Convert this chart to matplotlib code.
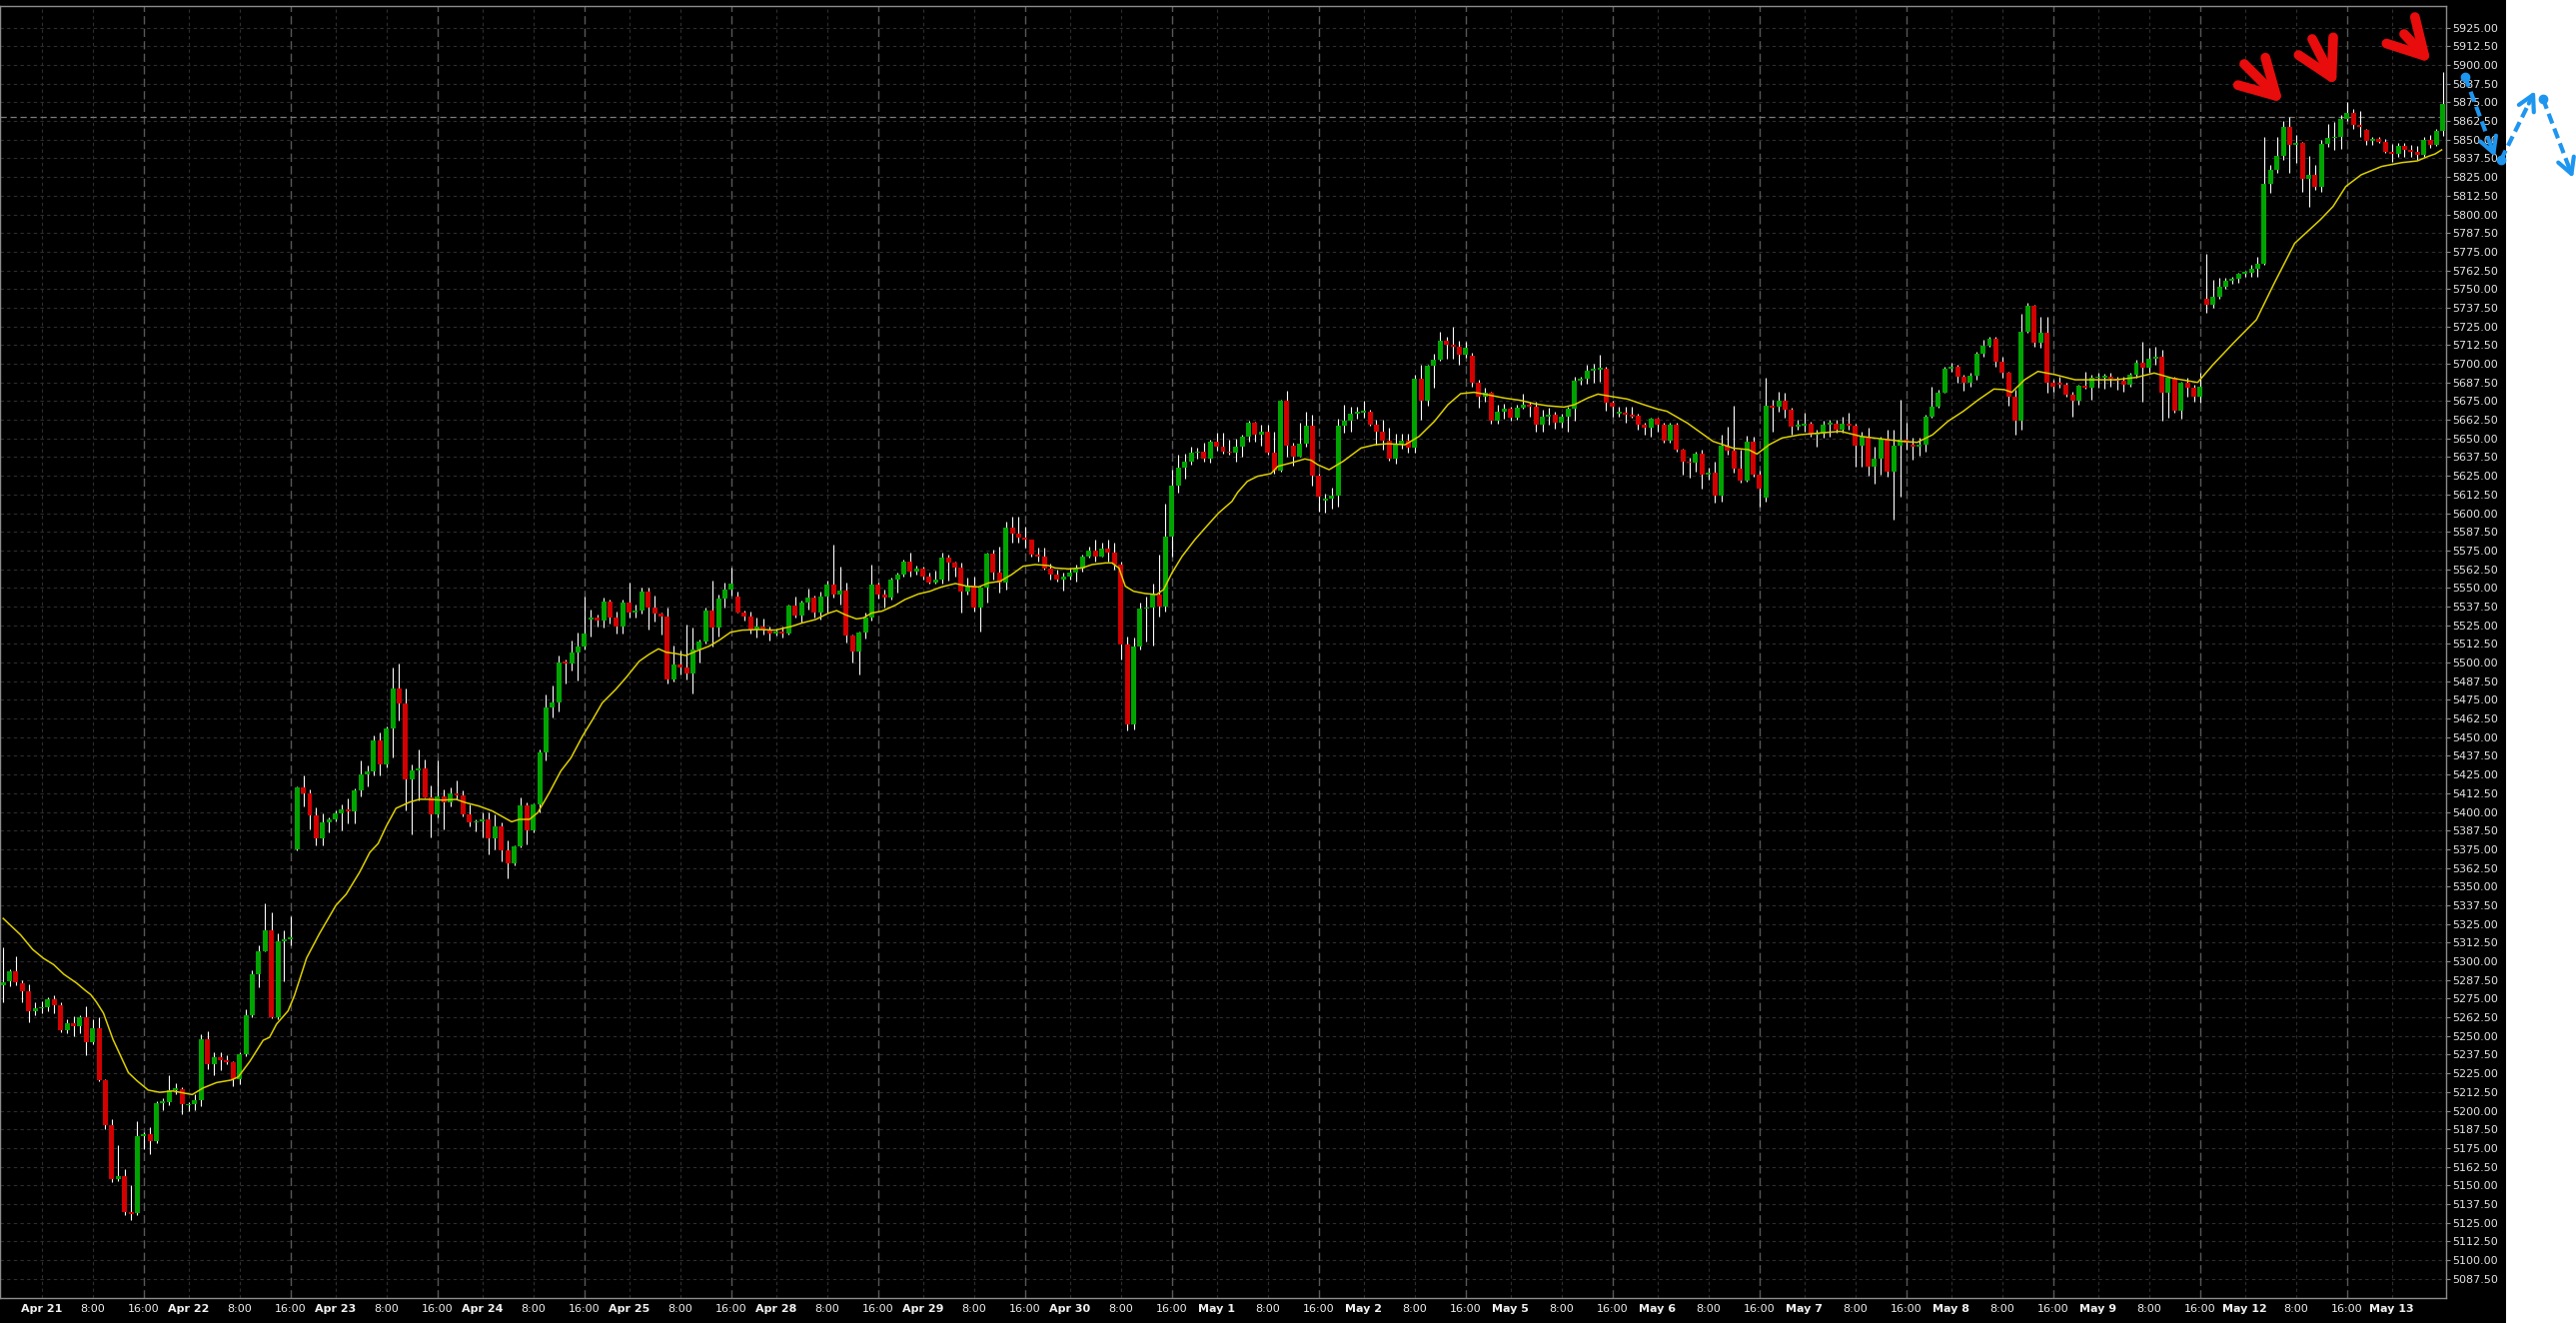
import numpy as np
import matplotlib.pyplot as plt
from matplotlib.patches import Rectangle, FancyArrowPatch
from matplotlib.lines import Line2D

W, H = 2578, 1324

# hourly bars, 23 per session (18:00 -> 16:00), weekends dropped
sessions = ['Apr 21', 'Apr 22', 'Apr 23', 'Apr 24', 'Apr 25', 'Apr 28', 'Apr 29', 'Apr 30',
            'May 1', 'May 2', 'May 5', 'May 6', 'May 7', 'May 8', 'May 9', 'May 12', 'May 13']
bars_per_session = 23

opens = [
    5284.0, 5286.5, 5293.0, 5285.4, 5280.1, 5266.5, 5268.3, 5269.0, 5274.8, 5270.6, 5254.1, 5258.5, 5256.5, 5262.4, 5245.6, 5255.0, 5220.5, 5190.2, 5154.5, 5156.3, 5132.1, 5131.5, 5182.8,
    5184.0, 5179.9, 5204.9, 5205.8, 5213.7, 5214.6, 5203.5, 5204.3, 5207.0, 5247.6, 5231.1, 5235.9, 5233.5, 5232.3, 5221.1, 5237.9, 5263.9, 5291.3, 5306.6, 5320.7, 5262.4, 5313.1, 5314.8,
    5375.0, 5416.2, 5412.7, 5397.4, 5382.6, 5393.0, 5395.0, 5399.1, 5401.8, 5400.3, 5414.2, 5425.4, 5427.4, 5448.1, 5431.6, 5456.0, 5482.5, 5472.5, 5421.5, 5428.0, 5429.2, 5409.9, 5398.3,
    5410.1, 5406.6, 5412.4, 5410.8, 5398.3, 5392.8, 5393.5, 5395.2, 5382.1, 5390.5, 5374.5, 5365.3, 5377.2, 5404.6, 5387.9, 5405.0, 5439.6, 5469.7, 5473.1, 5501.0, 5499.4, 5506.5, 5510.9,
    5528.8, 5530.3, 5528.1, 5541.0, 5530.3, 5524.3, 5540.4, 5533.7, 5534.8, 5547.5, 5537.0, 5532.8, 5531.0, 5488.6, 5498.7, 5496.9, 5492.7, 5508.7, 5514.1, 5534.8, 5523.7, 5542.8, 5548.8,
    5544.4, 5533.7, 5531.0, 5522.1, 5523.9, 5522.1, 5519.2, 5521.0, 5519.4, 5538.2, 5531.5, 5540.0, 5543.7, 5533.2, 5544.4, 5552.2, 5545.5, 5548.2, 5518.3, 5507.6, 5519.9, 5529.9, 5552.2,
    5545.5, 5543.3, 5555.5, 5558.9, 5567.8, 5560.7, 5562.7, 5557.8, 5553.8, 5555.5, 5570.5, 5566.7, 5563.8, 5547.7, 5551.7, 5537.0, 5550.0, 5572.7, 5560.0, 5553.3, 5590.1, 5586.3, 5583.9,
    5582.3, 5572.3, 5571.2, 5562.9, 5558.9, 5555.5, 5557.3, 5560.0, 5562.7, 5571.2, 5574.9, 5571.2, 5576.3, 5573.4, 5565.6, 5512.0, 5458.5, 5510.9, 5535.9, 5536.6, 5545.5, 5537.7, 5584.1,
    5618.4, 5630.2, 5634.7, 5640.3, 5641.4, 5636.5, 5647.9, 5644.7, 5641.4, 5640.3, 5644.7, 5651.0, 5660.3, 5652.5, 5654.3, 5640.3, 5628.5, 5675.3, 5645.4, 5637.6, 5646.5, 5658.8, 5625.3,
    5608.6, 5610.0, 5611.7, 5658.6, 5661.9, 5666.6, 5667.5, 5668.1, 5659.2, 5654.8, 5648.5, 5636.3, 5646.5, 5648.5, 5644.1, 5689.8, 5675.3, 5698.7, 5702.7, 5715.4, 5712.7, 5711.6, 5706.0,
    5705.4, 5687.6, 5678.2, 5680.9, 5661.9, 5667.7, 5669.9, 5664.1, 5670.8, 5672.6, 5671.0, 5659.2, 5664.8, 5665.9, 5660.8, 5664.8, 5669.7, 5688.7, 5689.8, 5695.4, 5696.0, 5696.7, 5674.2,
    5666.5, 5667.5, 5665.9, 5665.3, 5659.2, 5657.5, 5663.0, 5659.2, 5648.7, 5659.2, 5642.5, 5634.7, 5633.6, 5639.8, 5625.8, 5626.9, 5611.7, 5645.2, 5641.8, 5629.6, 5622.0, 5648.1, 5625.8,
    5610.2, 5672.0, 5671.5, 5675.5, 5669.3, 5657.7, 5658.6, 5659.9, 5652.5, 5653.2, 5659.2, 5659.9, 5655.9, 5659.9, 5658.6, 5645.2, 5651.4, 5631.3, 5636.3, 5649.7, 5628.0, 5645.2, 5649.2,
    5645.9, 5644.3, 5645.9, 5664.8, 5671.1, 5680.9, 5696.7, 5697.8, 5691.6, 5687.5, 5692.0, 5706.7, 5712.3, 5716.5, 5701.6, 5693.8, 5678.2, 5662.1, 5721.2, 5738.8, 5714.3, 5720.5, 5687.1,
    5687.5, 5686.0, 5679.3, 5675.5, 5685.3, 5684.2, 5690.4, 5690.5, 5691.6, 5689.8, 5688.7, 5686.0, 5692.7, 5700.5, 5697.2, 5703.2, 5704.9, 5680.9, 5690.4, 5668.8, 5687.1, 5683.8, 5678.2,
    5743.3, 5739.5, 5745.1, 5751.3, 5755.5, 5756.7, 5760.2, 5761.1, 5763.4, 5766.7, 5820.4, 5829.8, 5839.2, 5858.3, 5846.5, 5848.1, 5823.6, 5826.5, 5818.2, 5847.2, 5851.0, 5851.7, 5863.7,
    5867.7, 5859.9, 5856.6, 5849.4, 5850.3, 5848.8, 5842.1, 5840.5, 5845.9, 5843.2, 5841.6, 5839.8, 5849.9, 5846.5, 5856.1,
]

highs = [
    5309.5, 5294.8, 5303.1, 5287.4, 5284.5, 5272.7, 5273.3, 5276.2, 5277.1, 5272.7, 5261.5, 5263.3, 5263.9, 5269.8, 5260.9, 5262.4, 5221.0, 5194.6, 5176.9, 5160.7, 5150.4, 5193.1, 5185.8,
    5188.7, 5206.4, 5208.7, 5224.1, 5218.2, 5215.8, 5205.8, 5210.8, 5251.2, 5253.5, 5239.4, 5239.4, 5237.3, 5232.9, 5239.4, 5267.7, 5294.2, 5311.0, 5339.0, 5332.5, 5319.0, 5320.7, 5330.2,
    5417.1, 5424.5, 5415.0, 5403.0, 5398.8, 5396.5, 5400.9, 5405.3, 5409.2, 5415.6, 5434.2, 5431.3, 5451.0, 5453.4, 5456.9, 5496.7, 5499.6, 5482.8, 5431.9, 5441.6, 5435.1, 5417.7, 5434.5,
    5415.1, 5416.2, 5421.1, 5414.6, 5405.0, 5395.0, 5399.5, 5399.5, 5398.3, 5392.8, 5380.9, 5377.6, 5409.5, 5406.1, 5405.7, 5441.8, 5478.6, 5484.6, 5504.7, 5502.0, 5514.7, 5519.9, 5543.9,
    5535.5, 5532.1, 5543.3, 5542.2, 5534.4, 5542.2, 5553.8, 5538.8, 5550.0, 5550.0, 5544.8, 5533.2, 5537.0, 5511.4, 5508.1, 5525.4, 5523.2, 5515.4, 5536.6, 5555.1, 5545.5, 5553.3, 5563.8,
    5547.3, 5535.0, 5534.4, 5529.9, 5529.2, 5524.3, 5522.6, 5524.3, 5538.8, 5544.4, 5541.7, 5549.5, 5544.8, 5547.3, 5554.9, 5578.9, 5564.5, 5553.3, 5519.0, 5521.0, 5533.2, 5565.6, 5553.8,
    5548.9, 5556.6, 5560.4, 5568.9, 5573.8, 5564.9, 5564.5, 5560.0, 5561.8, 5573.8, 5572.3, 5567.8, 5567.1, 5556.6, 5557.8, 5551.1, 5573.8, 5575.6, 5577.8, 5594.6, 5597.9, 5597.5, 5591.2,
    5582.3, 5576.7, 5576.7, 5566.0, 5562.2, 5560.0, 5563.3, 5565.6, 5572.3, 5577.8, 5582.3, 5580.5, 5582.3, 5580.1, 5567.8, 5517.2, 5516.5, 5540.4, 5544.4, 5552.9, 5572.3, 5606.4, 5629.1,
    5639.2, 5639.8, 5644.7, 5643.6, 5647.0, 5649.2, 5654.1, 5653.6, 5649.2, 5649.6, 5652.5, 5662.1, 5661.5, 5659.2, 5659.2, 5654.8, 5675.9, 5682.0, 5647.4, 5660.8, 5668.2, 5665.9, 5626.5,
    5613.1, 5616.9, 5663.0, 5672.6, 5671.5, 5671.5, 5675.3, 5669.3, 5662.6, 5662.6, 5657.0, 5653.2, 5653.2, 5653.0, 5692.7, 5699.3, 5699.3, 5706.7, 5721.4, 5718.3, 5724.6, 5715.6, 5715.0,
    5707.2, 5689.3, 5683.8, 5681.5, 5672.6, 5673.3, 5671.5, 5672.6, 5680.0, 5674.8, 5674.8, 5669.3, 5670.4, 5668.2, 5666.6, 5671.5, 5691.1, 5691.1, 5699.3, 5699.8, 5706.0, 5698.2, 5675.5,
    5671.5, 5671.5, 5671.5, 5666.6, 5660.8, 5663.7, 5663.7, 5660.3, 5660.3, 5660.3, 5643.0, 5637.0, 5641.4, 5642.5, 5630.2, 5634.7, 5652.5, 5658.1, 5672.0, 5642.5, 5651.9, 5651.4, 5628.7,
    5690.4, 5676.0, 5681.5, 5680.9, 5670.4, 5662.6, 5667.0, 5661.5, 5655.9, 5662.1, 5662.6, 5662.6, 5664.4, 5667.0, 5659.9, 5654.8, 5657.0, 5644.7, 5651.4, 5655.9, 5655.9, 5676.0, 5660.8,
    5650.3, 5650.3, 5665.9, 5684.9, 5682.7, 5698.3, 5700.5, 5699.4, 5692.7, 5693.8, 5708.3, 5716.1, 5717.9, 5717.9, 5704.9, 5694.9, 5682.7, 5733.5, 5740.6, 5739.5, 5731.7, 5731.7, 5689.3,
    5691.6, 5687.1, 5681.5, 5686.0, 5694.9, 5692.7, 5693.8, 5693.3, 5693.8, 5691.6, 5691.6, 5693.8, 5702.7, 5715.0, 5710.5, 5711.2, 5709.4, 5691.6, 5691.6, 5688.2, 5690.4, 5686.0, 5693.8,
    5773.6, 5756.2, 5757.3, 5757.3, 5758.5, 5761.1, 5762.5, 5766.3, 5771.4, 5851.7, 5833.2, 5851.7, 5862.8, 5865.5, 5853.2, 5848.8, 5839.2, 5833.2, 5849.9, 5860.6, 5862.1, 5866.6, 5875.5,
    5870.4, 5869.5, 5857.0, 5851.7, 5851.7, 5850.3, 5847.2, 5847.6, 5847.6, 5846.5, 5845.9, 5851.7, 5853.2, 5857.0, 5895.6,
]

lows = [
    5272.7, 5283.6, 5284.0, 5272.7, 5259.4, 5263.9, 5265.0, 5266.8, 5265.3, 5252.7, 5252.1, 5249.7, 5252.1, 5237.3, 5244.7, 5219.6, 5187.8, 5151.9, 5152.7, 5129.8, 5126.8, 5130.3, 5174.0,
    5171.0, 5178.4, 5200.5, 5203.4, 5210.8, 5197.5, 5199.9, 5200.5, 5202.9, 5227.9, 5224.1, 5227.0, 5231.4, 5216.1, 5217.6, 5236.4, 5262.4, 5282.4, 5306.6, 5261.8, 5260.9, 5286.8, 5311.0,
    5374.4, 5403.9, 5388.5, 5377.3, 5377.3, 5386.2, 5393.5, 5387.6, 5392.1, 5392.1, 5410.3, 5417.1, 5424.5, 5424.5, 5429.5, 5436.3, 5461.3, 5400.9, 5384.7, 5407.4, 5409.5, 5383.2, 5396.6,
    5388.3, 5403.9, 5408.4, 5397.2, 5390.5, 5387.2, 5382.7, 5371.6, 5375.0, 5367.1, 5355.3, 5364.2, 5376.1, 5378.3, 5386.1, 5399.5, 5434.7, 5463.5, 5467.5, 5485.7, 5494.7, 5488.2, 5508.7,
    5517.2, 5524.3, 5523.7, 5526.1, 5519.4, 5519.4, 5529.9, 5529.9, 5532.6, 5522.1, 5527.7, 5518.7, 5485.9, 5487.5, 5492.0, 5488.6, 5479.3, 5499.8, 5512.7, 5510.9, 5517.6, 5536.6, 5545.1,
    5533.2, 5528.3, 5519.4, 5516.5, 5518.7, 5514.9, 5518.1, 5516.5, 5518.7, 5529.9, 5527.0, 5535.5, 5529.9, 5528.8, 5533.2, 5543.3, 5538.8, 5513.2, 5499.8, 5492.0, 5515.9, 5528.3, 5542.6,
    5536.6, 5542.2, 5546.6, 5557.8, 5557.8, 5558.9, 5555.5, 5552.9, 5552.9, 5552.9, 5555.1, 5557.8, 5533.2, 5545.5, 5534.4, 5521.0, 5539.9, 5555.5, 5547.1, 5548.9, 5580.5, 5580.1, 5576.7,
    5571.2, 5567.8, 5562.2, 5555.5, 5554.4, 5548.4, 5555.5, 5554.4, 5561.1, 5570.0, 5567.8, 5571.2, 5567.8, 5562.2, 5502.0, 5454.8, 5455.2, 5508.7, 5514.3, 5511.6, 5531.0, 5534.3, 5571.2,
    5613.5, 5622.9, 5632.5, 5636.3, 5634.7, 5633.6, 5642.1, 5639.8, 5639.2, 5634.7, 5637.6, 5647.9, 5647.9, 5645.2, 5639.2, 5626.5, 5628.0, 5637.6, 5631.8, 5637.6, 5644.7, 5618.4, 5601.3,
    5600.6, 5603.1, 5604.6, 5653.7, 5654.8, 5663.0, 5663.7, 5658.6, 5645.9, 5642.5, 5635.4, 5633.1, 5643.2, 5640.7, 5640.7, 5662.6, 5671.9, 5683.8, 5702.3, 5703.4, 5703.2, 5699.3, 5703.8,
    5684.4, 5670.8, 5674.8, 5659.9, 5659.9, 5663.3, 5662.1, 5662.6, 5669.7, 5664.8, 5654.8, 5654.8, 5659.2, 5656.3, 5657.0, 5654.8, 5662.1, 5686.0, 5686.7, 5687.6, 5688.2, 5668.8, 5664.8,
    5664.8, 5660.4, 5663.7, 5655.9, 5652.5, 5651.4, 5654.8, 5647.4, 5647.0, 5641.4, 5625.8, 5623.5, 5628.0, 5616.2, 5622.4, 5606.8, 5607.9, 5639.2, 5627.3, 5620.7, 5621.3, 5624.7, 5604.6,
    5607.9, 5654.8, 5668.2, 5663.7, 5652.5, 5655.9, 5654.8, 5651.4, 5644.7, 5650.3, 5651.4, 5654.1, 5653.7, 5655.9, 5631.3, 5631.3, 5625.1, 5619.8, 5625.8, 5624.7, 5595.7, 5611.3, 5642.5,
    5635.8, 5638.5, 5641.4, 5663.7, 5670.4, 5680.4, 5694.9, 5687.1, 5682.2, 5684.9, 5689.3, 5704.9, 5711.6, 5698.3, 5690.4, 5671.9, 5652.5, 5655.9, 5720.5, 5711.6, 5710.5, 5680.4, 5681.5,
    5683.8, 5678.2, 5664.8, 5672.6, 5683.1, 5676.0, 5683.8, 5683.1, 5684.9, 5682.7, 5681.5, 5684.9, 5690.4, 5674.8, 5693.8, 5699.4, 5662.1, 5663.7, 5667.0, 5663.0, 5678.2, 5674.8, 5673.7,
    5733.9, 5737.3, 5743.3, 5750.0, 5753.5, 5754.0, 5758.5, 5758.5, 5758.0, 5766.3, 5814.2, 5828.0, 5836.5, 5827.6, 5834.3, 5815.3, 5805.3, 5816.4, 5815.3, 5845.0, 5843.2, 5843.6, 5862.8,
    5857.0, 5852.1, 5846.5, 5846.5, 5847.6, 5841.0, 5835.4, 5838.7, 5838.7, 5838.7, 5836.5, 5838.7, 5844.3, 5845.9, 5852.5,
]

closes = [
    5286.0, 5293.0, 5286.0, 5280.1, 5266.5, 5268.3, 5269.0, 5274.8, 5270.6, 5254.1, 5258.5, 5256.5, 5262.4, 5245.6, 5255.0, 5220.5, 5190.2, 5154.5, 5156.3, 5132.1, 5131.5, 5182.8, 5184.0,
    5179.9, 5204.9, 5205.8, 5213.7, 5214.6, 5204.3, 5204.5, 5207.0, 5247.6, 5231.1, 5235.9, 5233.5, 5232.3, 5221.1, 5237.9, 5263.9, 5291.3, 5306.6, 5320.7, 5262.4, 5313.1, 5314.8, 5315.4,
    5416.2, 5412.7, 5397.4, 5382.6, 5393.0, 5395.0, 5399.1, 5401.8, 5400.3, 5414.2, 5425.4, 5427.4, 5448.1, 5431.6, 5456.0, 5482.5, 5472.5, 5421.5, 5428.0, 5429.2, 5409.9, 5398.3, 5410.1,
    5406.6, 5412.4, 5410.8, 5398.3, 5392.8, 5393.5, 5395.2, 5382.1, 5390.5, 5374.5, 5365.3, 5377.2, 5404.6, 5387.9, 5405.0, 5439.6, 5469.7, 5473.1, 5500.2, 5499.4, 5506.5, 5510.9, 5519.4,
    5530.3, 5528.1, 5541.0, 5530.3, 5524.3, 5540.4, 5533.7, 5534.8, 5547.5, 5537.0, 5532.8, 5531.0, 5488.6, 5498.7, 5496.9, 5492.7, 5508.7, 5514.1, 5534.8, 5523.7, 5542.8, 5548.8, 5552.9,
    5533.7, 5531.0, 5522.1, 5523.9, 5522.1, 5519.2, 5521.0, 5519.4, 5538.2, 5531.5, 5540.0, 5543.7, 5533.2, 5544.4, 5552.2, 5545.5, 5548.2, 5518.3, 5507.6, 5519.9, 5529.9, 5552.2, 5545.5,
    5543.3, 5555.5, 5558.9, 5567.8, 5560.7, 5562.7, 5557.8, 5553.8, 5555.5, 5570.5, 5566.7, 5563.8, 5547.7, 5551.7, 5537.0, 5550.0, 5572.7, 5560.0, 5553.3, 5590.1, 5586.3, 5583.9, 5582.3,
    5572.3, 5571.2, 5562.9, 5558.9, 5555.5, 5557.3, 5560.0, 5562.7, 5571.2, 5574.9, 5571.2, 5576.3, 5573.4, 5565.6, 5512.0, 5458.5, 5510.9, 5535.9, 5536.6, 5545.5, 5537.7, 5584.1, 5618.4,
    5630.2, 5634.7, 5640.3, 5641.4, 5636.5, 5647.9, 5644.7, 5641.4, 5640.3, 5644.7, 5651.0, 5660.3, 5652.5, 5654.3, 5640.3, 5628.5, 5675.3, 5645.4, 5637.6, 5646.5, 5658.8, 5625.3, 5611.3,
    5610.0, 5611.7, 5658.6, 5661.9, 5666.6, 5667.5, 5668.1, 5659.2, 5654.8, 5648.5, 5636.3, 5646.5, 5648.5, 5644.1, 5689.8, 5675.3, 5698.7, 5702.7, 5715.4, 5712.7, 5711.6, 5706.0, 5710.5,
    5687.6, 5678.2, 5680.9, 5661.9, 5667.7, 5669.9, 5664.1, 5670.8, 5672.6, 5671.0, 5659.2, 5664.8, 5665.9, 5660.8, 5664.8, 5669.7, 5688.7, 5689.8, 5695.4, 5696.0, 5696.7, 5674.2, 5671.5,
    5667.5, 5665.9, 5665.3, 5659.2, 5657.5, 5663.0, 5659.2, 5648.7, 5659.2, 5642.5, 5634.7, 5633.6, 5639.8, 5625.8, 5626.9, 5611.7, 5645.2, 5641.8, 5629.6, 5622.0, 5648.1, 5625.8, 5616.2,
    5672.0, 5671.5, 5675.5, 5669.3, 5657.7, 5658.6, 5659.9, 5652.5, 5653.2, 5659.2, 5659.9, 5655.9, 5659.9, 5658.6, 5645.2, 5651.4, 5631.3, 5636.3, 5649.7, 5628.0, 5645.2, 5649.2, 5647.4,
    5644.3, 5645.9, 5664.8, 5671.1, 5680.9, 5696.7, 5697.8, 5691.6, 5687.5, 5692.0, 5706.7, 5712.3, 5716.5, 5701.6, 5693.8, 5678.2, 5662.1, 5721.2, 5738.8, 5714.3, 5720.5, 5687.1, 5684.9,
    5686.0, 5679.3, 5675.5, 5685.3, 5684.2, 5690.4, 5691.6, 5691.6, 5689.8, 5688.7, 5686.0, 5692.7, 5700.5, 5697.2, 5703.2, 5704.9, 5680.9, 5690.4, 5668.8, 5687.1, 5683.8, 5678.2, 5684.4,
    5739.5, 5745.1, 5751.3, 5755.5, 5756.7, 5760.2, 5761.1, 5763.4, 5766.7, 5820.4, 5829.8, 5839.2, 5858.3, 5846.5, 5848.1, 5823.6, 5826.5, 5818.2, 5847.2, 5851.0, 5851.7, 5863.7, 5867.7,
    5859.9, 5858.8, 5849.4, 5850.3, 5848.8, 5842.1, 5840.5, 5845.9, 5843.2, 5841.6, 5839.8, 5849.9, 5846.5, 5856.1, 5874.0,
]

# moving average line (bar position, price)
ma_x = [0, 2.7, 4.6, 6.3, 7.9, 9.5, 11.5, 12.8, 13.7, 14.6, 15.7, 17.2, 19.6, 20.9, 22.7, 24.5, 26.6, 28.4, 29.6,
        31.3, 33.4, 35.7, 36.8, 38.6, 40.7, 41.7, 42.8, 44.6, 45.6, 47.5, 49.5, 52.1, 53.7, 55.8, 57.4, 58.7, 60,
        61.5, 63.6, 65.2, 66.7, 68.8, 70.9, 72.5, 74.5, 76.6, 78.2, 79.6, 80.8, 82.4, 83.7, 85.5, 87.3, 88.9, 90.7,
        92.3, 93.8, 95.9, 97.5, 99.6, 101.1, 102.6, 103.8, 105.3, 106.9, 108.5, 110.5, 112.1, 113.9, 115.7, 118.3,
        120.9, 123.5, 125.1, 127.2, 129.2, 130.5, 131.8, 133.6, 134.7, 136, 137.6, 139.7, 141.2, 143.3, 145.1,
        146.9, 149.1, 150.9, 152.7, 154.3, 156.1, 157.9, 159.7, 161.6, 163.7, 164.7, 166.8, 168.9, 170.5, 172.6,
        173.6, 174.7, 175.7, 177, 178.8, 180.6, 181.7, 183, 184.6, 186.6, 188.2, 190.3, 192.4, 193.3, 194.8, 196.4,
        198.5, 199.6, 201.6, 203.8, 204.8, 205.8, 207.6, 209.8, 212.6, 214.8, 216.8, 219.5, 221.7, 224.1, 226.2,
        228.2, 230.3, 232.4, 235, 237.6, 239.7, 241.8, 244.4, 246, 248.1, 249.7, 251.7, 254.3, 256.9, 259, 260.5,
        263.7, 267.7, 270.9, 273.3, 274.6, 276.5, 278.5, 281.3, 284.5, 287.7, 290.9, 294.1, 297.3, 299.7, 302.1,
        304.5, 306.9, 309.3, 311.7, 313.3, 314.5, 316.5, 318.6, 321.3, 324.4, 327.6, 330.8, 334, 336.8, 339.6, 342,
        343.6, 346, 349.2, 352.8, 355.6, 358.8, 362.8, 364.8, 366.8, 369.2, 372.4, 375.6, 378, 379.6, 380.8, 381.8]
ma_y = [5328.7, 5317.8, 5308.0, 5302.0, 5297.8, 5291.3, 5285.4, 5280.7, 5277.7, 5272.7, 5265.3, 5247.6, 5225.5, 5220.2,
        5213.8, 5212.3, 5213.2, 5211.7, 5210.8, 5215.2, 5218.8, 5220.5, 5222.6, 5232.9, 5247.1, 5249.1, 5258.0, 5266.8,
        5277.1, 5302.2, 5318.4, 5337.5, 5344.9, 5359.6, 5372.9, 5378.8, 5390.6, 5402.4, 5406.5, 5408.5, 5408.4, 5407.9,
        5408.4, 5406.1, 5403.9, 5400.6, 5396.8, 5393.4, 5395.0, 5395.0, 5399.5, 5412.8, 5427.3, 5436.2, 5450.7, 5461.9,
        5473.0, 5482.0, 5489.8, 5500.9, 5505.4, 5509.2, 5506.9, 5506.0, 5504.7, 5507.6, 5510.9, 5514.9, 5520.3, 5521.7,
        5522.1, 5521.7, 5524.3, 5526.5, 5528.8, 5533.0, 5534.8, 5532.1, 5529.2, 5529.9, 5533.2, 5534.4, 5538.4, 5542.2,
        5545.9, 5547.7, 5550.6, 5552.9, 5551.1, 5550.6, 5553.3, 5554.4, 5558.9, 5564.5, 5565.6, 5564.9, 5563.3, 5562.7,
        5563.3, 5565.6, 5566.7, 5566.7, 5563.3, 5551.1, 5547.7, 5546.2, 5545.5, 5548.9, 5560.0, 5571.2, 5582.3, 5590.1,
        5600.1, 5607.9, 5614.0, 5621.3, 5624.7, 5626.5, 5631.4, 5633.6, 5636.3, 5635.4, 5632.5, 5629.1, 5634.7, 5643.6,
        5645.8, 5646.5, 5645.8, 5651.4, 5661.5, 5672.6, 5680.0, 5680.9, 5679.3, 5677.1, 5675.5, 5673.3, 5671.9, 5671.0,
        5672.6, 5677.1, 5679.7, 5678.2, 5676.4, 5672.6, 5669.7, 5668.2, 5660.3, 5648.1, 5643.5, 5642.5, 5639.6, 5645.8,
        5650.3, 5652.5, 5653.7, 5654.8, 5651.4, 5649.7, 5648.1, 5647.4, 5652.5, 5661.5, 5668.2, 5676.0, 5683.1, 5682.7,
        5680.9, 5689.3, 5694.9, 5692.7, 5689.3, 5689.3, 5689.3, 5690.9, 5693.8, 5690.4, 5688.7, 5687.5, 5699.4, 5713.9,
        5729.5, 5754.0, 5780.7, 5796.4, 5805.3, 5818.7, 5826.5, 5832.1, 5834.7, 5835.8, 5838.7, 5840.5, 5843.2]

marker_level = 5865.3

# annotations drawn on the screenshot (figure pixels: x0, y0, x1, y1)
red_arrows = [(2246, 64, 2285, 103), (2314, 39, 2338, 86), (2406, 34, 2433, 63)]
blue_arrows = [(2467, 77, 2497, 157), (2503, 160, 2537, 91), (2545, 99, 2575, 178)]

up_col = '#00a400'
down_col = '#d20000'

o = np.array(opens)
h = np.array(highs)
l = np.array(lows)
c = np.array(closes)
x = np.arange(len(c))

fig = plt.figure(figsize=(W / 100, H / 100), dpi=100, facecolor='white')
fig.patches.append(Rectangle((0, 0), 2508 / W, 1, transform=fig.transFigure,
                             facecolor='black', edgecolor='none', zorder=-5))
ax = fig.add_axes([0, 25 / H, 2448 / W, 1293 / H])
ax.set_zorder(1)
ax.set_facecolor('black')

# grid
grid_col = '#2e2e2e'
yt = np.arange(5087.5, 5925.1, 12.5)
for v in yt:
    ax.axhline(v, color=grid_col, lw=0.8, ls=(0, (3, 3)), zorder=0.5)

tick_pos, tick_lab = [], []
for s, name in enumerate(sessions):
    for off, lab in ((6, name), (14, '8:00'), (22, '16:00')):
        p = s * bars_per_session + off
        if p < len(c) - 1:
            tick_pos.append(p)
            tick_lab.append(lab)
for p, lab in zip(tick_pos, tick_lab):
    if lab == '16:00':
        ax.axvline(p, color='#585858', lw=1.0, ls=(0, (6, 3)), zorder=0.6)
    else:
        ax.axvline(p, color=grid_col, lw=0.8, ls=(0, (3, 3)), zorder=0.5)

ax.axhline(marker_level, color='#7c7c7c', lw=0.9, ls=(0, (5, 3)), zorder=0.7)

# candles
top = np.maximum(h, np.maximum(o, c))
bot = np.minimum(l, np.minimum(o, c))
ax.vlines(x, bot, top, color='white', lw=0.8, zorder=2)
body = c - o
body = np.where(np.abs(body) < 1.2, np.where(body < 0, -1.2, 1.2), body)
cols = np.where(c >= o, up_col, down_col)
ax.bar(x, body, bottom=o, width=0.78, color=cols, linewidth=0, zorder=3)

ax.plot(ma_x, ma_y, color='#dccf00', lw=1.1, zorder=4)

ax.set_xlim(-0.5, len(c) - 0.5)
ax.set_ylim(5074.6, 5939.5)

ax.set_xticks(tick_pos)
ax.set_xticklabels(tick_lab)
ax.tick_params(axis='x', length=0, pad=4, labelsize=8, labelcolor='#f0f0f0')
for t in ax.get_xticklabels():
    if ':' not in t.get_text():
        t.set_fontweight('bold')

ax.yaxis.tick_right()
ax.set_yticks(yt)
ax.set_yticklabels([f'{v:.2f}' for v in yt])
ax.tick_params(axis='y', length=3, width=0.8, color='#8c8c8c', pad=1.5,
               labelsize=8, labelcolor='#e4e4e4')
for sp in ax.spines.values():
    sp.set_color('#8c8c8c')
    sp.set_linewidth(1.0)


def fp(px, py):
    return (px / W, 1 - py / H)


for x0, y0, x1, y1 in red_arrows:
    fig.patches.append(FancyArrowPatch(fp(x0, y0), fp(x1, y1), transform=fig.transFigure,
                                       arrowstyle='->,head_length=25,head_width=14', mutation_scale=1,
                                       lw=7, color='#e80c0c', capstyle='round', joinstyle='round',
                                       shrinkA=0, shrinkB=0, zorder=10))

blue = '#1e96f0'
for x0, y0, x1, y1 in blue_arrows:
    d = np.array([x1 - x0, y1 - y0], dtype=float)
    d /= np.hypot(*d)
    mx, my = x1 - d[0] * 14, y1 - d[1] * 14
    fig.lines.append(Line2D([x0 / W, mx / W], [1 - y0 / H, 1 - my / H], transform=fig.transFigure,
                            color=blue, lw=3, dashes=(2.5, 1.3), zorder=10))
    fig.lines.append(Line2D([x0 / W], [1 - y0 / H], transform=fig.transFigure, marker='o',
                            ms=6, color=blue, zorder=11))
    fig.patches.append(FancyArrowPatch(fp(mx, my), fp(x1, y1), transform=fig.transFigure,
                                       arrowstyle='->,head_length=11,head_width=6', mutation_scale=1,
                                       lw=3, color=blue, capstyle='round', joinstyle='round',
                                       shrinkA=0, shrinkB=0, zorder=10))

fig.savefig('out.png', dpi=100, facecolor='white')
